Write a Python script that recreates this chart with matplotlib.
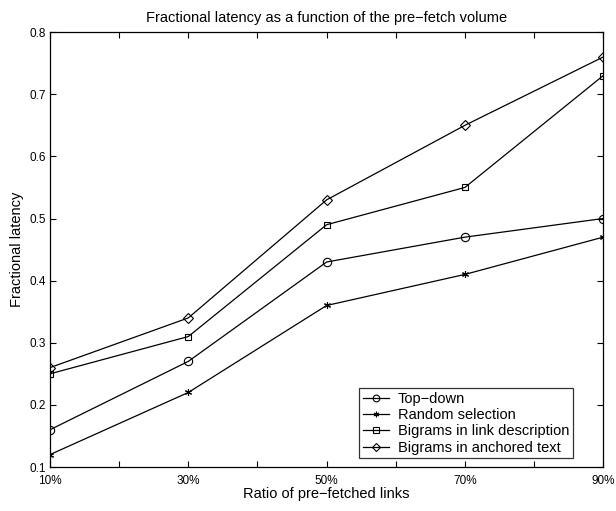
import matplotlib
matplotlib.use("Agg")
import matplotlib.pyplot as plt

plt.rcParams['font.family'] = ['Liberation Sans', 'DejaVu Sans']

ratios = [10, 30, 50, 70, 90]
top_down = [0.16, 0.27, 0.43, 0.47, 0.50]
random_sel = [0.12, 0.22, 0.36, 0.41, 0.47]
bigrams_link = [0.25, 0.31, 0.49, 0.55, 0.73]
bigrams_anchor = [0.26, 0.34, 0.53, 0.65, 0.76]

xtick_pos = [10, 20, 30, 40, 50, 60, 70, 80, 90]
xtick_labels = ['10%', '', '30%', '', '50%', '', '70%', '', '90%']
ytick_pos = [0.1, 0.2, 0.3, 0.4, 0.5, 0.6, 0.7, 0.8]

fig = plt.figure(figsize=(6.16, 5.11), dpi=100)
ax = fig.add_axes([0.0812, 0.0861, 0.898, 0.851])

style = dict(color='black', linewidth=0.9, markerfacecolor='none',
             markeredgecolor='black', markeredgewidth=0.8)
ax.plot(ratios, top_down, marker='o', markersize=6, label='Top\u2212down', **style)
ax.plot(ratios, random_sel, marker=(6, 2, 0), markersize=5, label='Random selection', **style)
ax.plot(ratios, bigrams_link, marker='s', markersize=5, label='Bigrams in link description', **style)
ax.plot(ratios, bigrams_anchor, marker='D', markersize=5, label='Bigrams in anchored text', **style)

ax.set_xlim(10, 90)
ax.set_ylim(0.1, 0.8)
ax.set_xticks(xtick_pos)
ax.set_xticklabels(xtick_labels)
ax.set_yticks(ytick_pos)
ax.set_yticklabels(['%.1f' % v for v in ytick_pos])
ax.tick_params(direction='in', top=True, right=True, length=4, width=0.8,
               labelsize=8.5)
ax.tick_params(axis='x', pad=5.5)
ax.tick_params(axis='y', pad=3)
for s in ax.spines.values():
    s.set_linewidth(0.9)

ax.set_title('Fractional latency as a function of the pre\u2212fetch volume', fontsize=10.5, pad=7)
ax.set_xlabel('Ratio of pre\u2212fetched links', fontsize=10.5, labelpad=0)
ax.set_ylabel('Fractional latency', fontsize=10.5, labelpad=4)

leg = ax.legend(loc='lower right', bbox_to_anchor=(0.945, 0.02), fontsize=10.5,
                frameon=True, fancybox=False, edgecolor='black', borderpad=0.25,
                labelspacing=0.15, handlelength=1.8, handletextpad=0.6,
                borderaxespad=0, markerscale=0.8)
leg.get_frame().set_linewidth(0.9)

fig.savefig('out.png', dpi=100)
